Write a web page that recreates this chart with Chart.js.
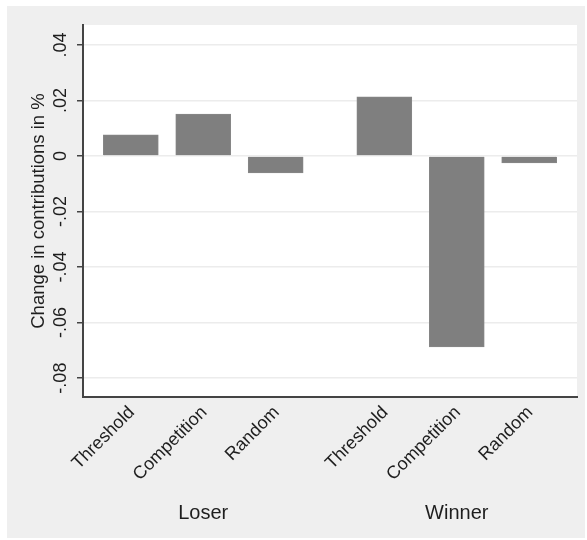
<!DOCTYPE html>
<html>
<head>
<meta charset="utf-8">
<script src="https://cdn.jsdelivr.net/npm/chart.js@4/dist/chart.umd.min.js"></script>
<style>
  html, body { margin: 0; padding: 0; background: #ffffff; }
  #wrap { width: 587px; height: 540px; }
</style>
</head>
<body>
<div id="wrap"><canvas id="c" width="587" height="540"></canvas></div>
<script>
// ---- data ----
const groups = ['Loser', 'Winner'];
const treatments = ['Threshold', 'Competition', 'Random'];
const loserValues = [0.0076, 0.0151, -0.0061];
const winnerValues = [0.0213, -0.0688, -0.0025];
const yTickValues = [-0.08, -0.06, -0.04, -0.02, 0, 0.02, 0.04];
const yTitle = 'Change in contributions in %';

// ---- build bar points: treatments side by side, half-slot gap between groups ----
const seriesByGroup = [loserValues, winnerValues];
const GROUP_GAP = 0.5;
const points = [];
const xTickPos = [];
const xTickLabels = [];
const groupCenters = [];
seriesByGroup.forEach((vals, g) => {
  const base = g * (treatments.length + GROUP_GAP);
  vals.forEach((v, i) => {
    const x = base + i + 1;
    points.push({ x: x, y: v });
    xTickPos.push(x);
    xTickLabels.push(treatments[i]);
  });
  groupCenters.push(base + (treatments.length + 1) / 2);
});
const xMin = xTickPos[0] - 0.66;
const xMax = xTickPos[xTickPos.length - 1] + 0.66;

const FONT = "'Liberation Sans', Arial, Helvetica, sans-serif";
const TEXT = '#1e1e1e';

const bgPlugin = {
  id: 'bg',
  beforeDraw(chart) {
    const ctx = chart.ctx;
    const a = chart.chartArea;
    ctx.save();
    ctx.fillStyle = '#ffffff';
    ctx.fillRect(0, 0, chart.width, chart.height);
    ctx.fillStyle = '#efefef';
    ctx.fillRect(7, 6, 578, 532);
    ctx.fillStyle = '#ffffff';
    ctx.fillRect(a.left, a.top, a.right - a.left, a.bottom - a.top);
    ctx.restore();
  }
};

function fmtY(v) {
  if (Math.abs(v) < 1e-12) return '0';
  return (v < 0 ? '-' : '') + Math.abs(v).toFixed(2).replace(/^0/, '');
}

new Chart(document.getElementById('c'), {
  type: 'bar',
  data: {
    datasets: [{
      data: points,
      backgroundColor: '#7f7f7f',
      borderColor: '#878787',
      borderWidth: 1,
      barThickness: 55
    }]
  },
  options: {
    responsive: false,
    animation: false,
    devicePixelRatio: 1,
    layout: { padding: { top: 25, right: 10, left: 0, bottom: 0 } },
    plugins: { legend: { display: false }, tooltip: { enabled: false } },
    scales: {
      x: {
        type: 'linear',
        position: 'bottom',
        offset: false,
        min: xMin,
        max: xMax,
        afterBuildTicks: (ax) => { ax.ticks = xTickPos.map(v => ({ value: v })); },
        afterFit: (ax) => { ax.height = 95; },
        grid: { display: false, offset: false },
        border: { display: true, color: '#444444', width: 2 },
        ticks: {
          autoSkip: false,
          minRotation: 45,
          maxRotation: 45,
          padding: -3,
          labelOffset: 1,
          color: TEXT,
          font: { family: FONT, size: 18 },
          callback: (v, i) => xTickLabels[i]
        }
      },
      x2: {
        type: 'linear',
        position: 'bottom',
        axis: 'x',
        offset: false,
        min: xMin,
        max: xMax,
        afterBuildTicks: (ax) => { ax.ticks = groupCenters.map(v => ({ value: v })); },
        afterFit: (ax) => { ax.height = 48; },
        grid: { display: false, offset: false },
        border: { display: false },
        ticks: {
          autoSkip: false,
          minRotation: 0,
          maxRotation: 0,
          padding: 1,
          color: TEXT,
          font: { family: FONT, size: 20 },
          callback: (v, i) => groups[i]
        }
      },
      y: {
        type: 'linear',
        position: 'left',
        min: -0.0868,
        max: 0.0472,
        afterBuildTicks: (ax) => { ax.ticks = yTickValues.map(v => ({ value: v })); },
        afterFit: (ax) => { ax.width = 83; },
        grid: {
          color: '#ececec',
          lineWidth: 1.5,
          tickColor: '#444444',
          tickLength: 6,
          tickWidth: 1.5
        },
        border: { display: true, color: '#444444', width: 2 },
        title: {
          display: true,
          text: yTitle,
          color: TEXT,
          font: { family: FONT, size: 18.5 },
          padding: { top: 28, bottom: 0 }
        },
        ticks: {
          minRotation: 90,
          maxRotation: 90,
          crossAlign: 'center',
          padding: 0,
          color: TEXT,
          font: { family: FONT, size: 18 },
          callback: (v) => fmtY(v)
        }
      }
    }
  },
  plugins: [bgPlugin]
});
</script>
</body>
</html>
